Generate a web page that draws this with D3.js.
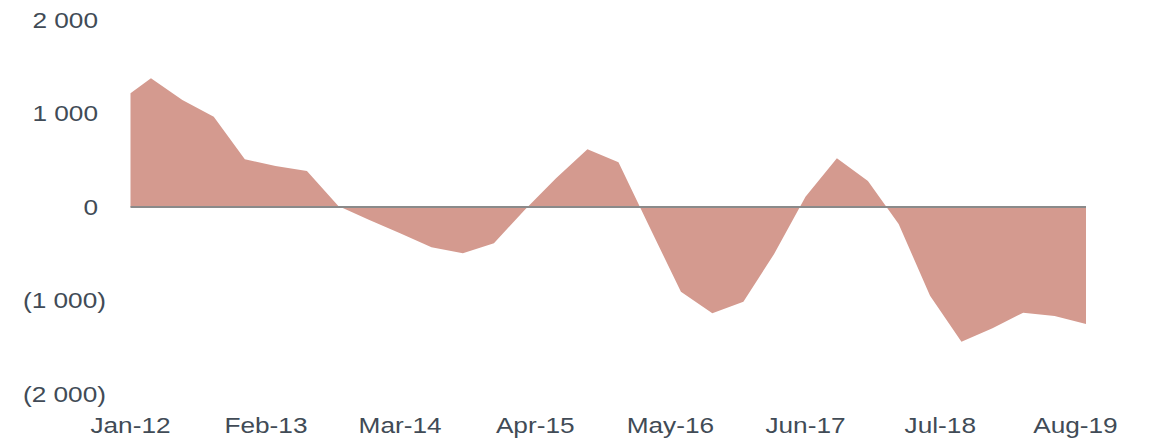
<!DOCTYPE html>
<html>
<head>
<meta charset="utf-8">
<script src="https://cdn.jsdelivr.net/npm/d3@7"></script>
<style>
  body { margin: 0; background: #fff; }
  svg { display: block; }
  text { font-family: "Liberation Sans", Arial, sans-serif; fill: #414b56; }
</style>
</head>
<body>
<div id="chart"></div>
<script>
// quarterly observations (first two points are Jan-12 and Mar-12)
var dates = ["2012-01", "2012-03", "2012-06", "2012-09", "2012-12",
    "2013-03", "2013-06", "2013-09", "2013-12",
    "2014-03", "2014-06", "2014-09", "2014-12",
    "2015-03", "2015-06", "2015-09", "2015-12",
    "2016-03", "2016-06", "2016-09", "2016-12",
    "2017-03", "2017-06", "2017-09", "2017-12",
    "2018-03", "2018-06", "2018-09", "2018-12",
    "2019-03", "2019-06", "2019-09"];

var values = [1216, 1376, 1144, 966, 510,
    438, 385, 10, -139,
    -281, -431, -495, -388,
    -32, 307, 617, 478,
    -215, -906, -1137, -1013,
    -503, 110, 521, 278,
    -182, -949, -1441, -1297,
    -1130, -1166, -1251];

var xTickDates = ["2012-01", "2013-02", "2014-03", "2015-04", "2016-05", "2017-06", "2018-07", "2019-08"];
var yTicks = [-2000, -1000, 0, 1000, 2000];

var svgWidth = 1150;
var svgHeight = 442;

var parseMonth = d3.timeParse("%Y-%m");
var data = dates.map((d, i) => ({ date: parseMonth(d), value: values[i] }));

var svg = d3.select("#chart")
    .append("svg")
    .attr("width", svgWidth)
    .attr("height", svgHeight);

var x = d3.scaleTime()
    .domain([parseMonth("2012-01"), parseMonth("2019-09")])
    .range([130.5, 1086]);

var y = d3.scaleLinear()
    .domain([-2000, 2000])
    .range([394, 20]);

// the area itself
var area = d3.area()
    .x(d => x(d.date))
    .y0(y(0))
    .y1(d => y(d.value));

svg.append("path")
    .datum(data)
    .attr("fill", "#d49a8f")
    .attr("d", area);

// zero line
svg.append("line")
    .attr("x1", x.range()[0])
    .attr("x2", x.range()[1])
    .attr("y1", y(0))
    .attr("y2", y(0))
    .attr("stroke", "#8a8a8a")
    .attr("stroke-width", 2);

// excel-ish number format: 1 000 / (1 000)
var fmt = v => {
    var s = d3.format(",")(Math.abs(v)).replace(/,/g, " ");
    return v < 0 ? "(" + s + ")" : s;
};

var stretch = 1.22;

// y labels
svg.append("g")
    .selectAll("text")
    .data(yTicks)
    .enter()
    .append("text")
    .attr("transform", d => `translate(${d < 0 ? 106 : 98}, ${y(d)}) scale(${stretch}, 1)`)
    .attr("text-anchor", "end")
    .attr("dominant-baseline", "central")
    .attr("font-size", 21.5)
    .text(fmt);

// x labels
var monthFmt = d3.timeFormat("%b-%y");
svg.append("g")
    .selectAll("text")
    .data(xTickDates.map(parseMonth))
    .enter()
    .append("text")
    .attr("transform", d => `translate(${x(d)}, 433) scale(${stretch}, 1)`)
    .attr("text-anchor", "middle")
    .attr("font-size", 21.5)
    .text(monthFmt);
</script>
</body>
</html>
